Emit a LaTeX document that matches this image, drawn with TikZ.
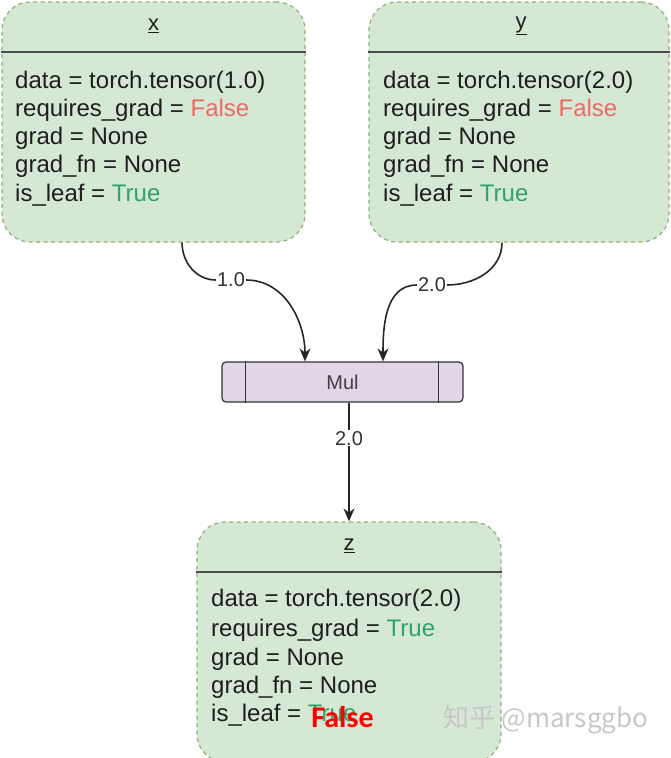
\documentclass[tikz,border=0pt]{standalone}
\usepackage{fontspec}
\setmainfont{Liberation Sans}
\newfontfamily\cjkfont{Noto Sans CJK SC}
\newfontfamily\calibrifont{Carlito}
\usetikzlibrary{arrows.meta}
\definecolor{boxfill}{HTML}{D5E8D4}
\definecolor{boxline}{HTML}{8DB07A}
\definecolor{opfill}{HTML}{E1D5E7}
\definecolor{ink}{HTML}{1E1E1E}
\definecolor{falsered}{HTML}{EA6B66}
\definecolor{truegreen}{HTML}{2FA36B}
\begin{document}
\begin{tikzpicture}[x=1pt, y=-1pt,
    varbox/.style={draw=boxline, fill=boxfill, line width=1.2pt, dash pattern=on 4pt off 3.5pt, rounded corners=28pt, inner sep=0pt, minimum height=240pt},
    headrule/.style={draw=black!70, line width=2.6pt},
    vartitle/.style={font=\fontsize{22}{26}\selectfont, text=ink, inner sep=0pt},
    field/.style={anchor=west, font=\fontsize{24}{28}\selectfont, text=ink, inner sep=0pt},
    opbox/.style={draw=black!80, fill=opfill, line width=1.2pt, rounded corners=4pt, minimum width=241pt, minimum height=40pt, font=\fontsize{20}{24}\selectfont, text=black!75},
    flow/.style={draw=black!85, line width=1.6pt, -{Stealth[length=13pt,width=11pt]}},
    elabel/.style={fill=white, inner sep=1pt, font=\fontsize{20}{23}\selectfont, text=black!80}]
  \useasboundingbox (0,0) rectangle (671,758);
  \clip (0,0) rectangle (671,758);
  % variable boxes
  \node[varbox, minimum width=303pt] (bx) at (153.5,122) {};
  \node[varbox, minimum width=300pt] (by) at (519,122) {};
  \node[varbox, minimum width=304pt] (bz) at (349,642) {};
  \draw[headrule] (bx.west |- 0,52) -- (bx.east |- 0,52);
  \draw[headrule] (by.west |- 0,52) -- (by.east |- 0,52);
  \draw[headrule] (bz.west |- 0,572) -- (bz.east |- 0,572);
  \node[vartitle] (tx) at (153.5,26) {\underline{x}};
  \node[vartitle] (ty) at (521,26) {\underline{y}};
  \node[vartitle] (tz) at (349,546) {\underline{z}};
  % x
  \node[field] (x1) at (15,82) {data = torch.tensor(1.0)};
  \node[field] (x2) at (15,110) {requires\_grad = \textcolor{falsered}{False}};
  \node[field] (x3) at (15,138) {grad = None};
  \node[field] (x4) at (15,166) {grad\_fn = None};
  \node[field] (x5) at (15,195) {is\_leaf = \textcolor{truegreen}{True}};
  % y
  \node[field] (y1) at (383,82) {data = torch.tensor(2.0)};
  \node[field] (y2) at (383,110) {requires\_grad = \textcolor{falsered}{False}};
  \node[field] (y3) at (383,138) {grad = None};
  \node[field] (y4) at (383,166) {grad\_fn = None};
  \node[field] (y5) at (383,195) {is\_leaf = \textcolor{truegreen}{True}};
  % z
  \node[field] (z1) at (211,600) {data = torch.tensor(2.0)};
  \node[field] (z2) at (211,630) {requires\_grad = \textcolor{truegreen}{True}};
  \node[field] (z3) at (211,659) {grad = None};
  \node[field] (z4) at (211,687) {grad\_fn = None};
  \node[field] (z5) at (211,715) {is\_leaf = \textcolor{truegreen}{True}};
  \node[inner sep=0pt, text=red, font=\calibrifont\bfseries\fontsize{30}{34}\selectfont] (zfix) at (342.5,717) {False};
  % operation
  \node[opbox] (mul) at (342.5,382) {Mul};
  \draw[draw=black!80, line width=1.2pt] ([xshift=24pt]mul.north west) -- ([xshift=24pt]mul.south west);
  \draw[draw=black!80, line width=1.2pt] ([xshift=-25pt]mul.north east) -- ([xshift=-25pt]mul.south east);
  % edges
  \node[elabel] (l1) at (231,280) {1.0};
  \node[elabel] (l2) at (432,285) {2.0};
  \draw[flow] ([xshift=28.5pt]bx.south) to[out=-90, in=180] (l1) to[out=0, in=90] ([xshift=-37.5pt]mul.north);
  \draw[flow] ([xshift=-17pt]by.south) to[out=-90, in=0] (l2) to[out=180, in=90] ([xshift=40.5pt]mul.north);
  \draw[flow] (mul.south -| bz.north) -- node[elabel, pos=0.3] (l3) {2.0} (bz.north);
  % watermark
  \node[inner sep=0pt, text=black!22, font=\cjkfont\fontsize{26}{30}\selectfont] (wm) at (546,720) {知乎 @marsggbo};
\end{tikzpicture}
\end{document}
